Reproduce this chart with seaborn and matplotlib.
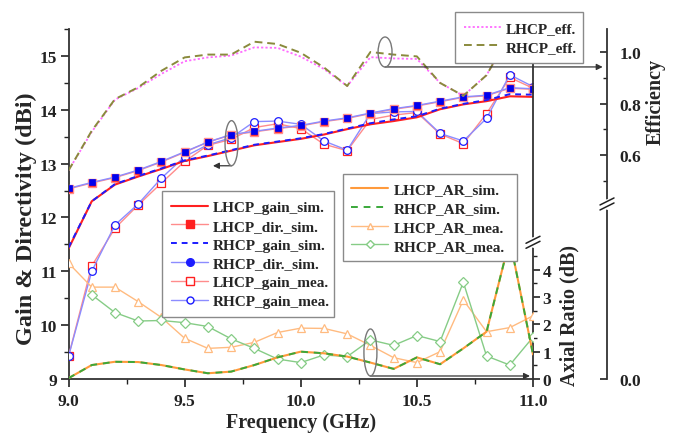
import numpy as np
import pandas as pd
import seaborn as sns
import matplotlib
matplotlib.use("Agg")
import matplotlib.pyplot as plt
import matplotlib.ticker as mt
from matplotlib.lines import Line2D
from matplotlib.patches import Ellipse
from matplotlib.transforms import IdentityTransform

# ---------------- data ----------------
freq = [9.0, 9.1, 9.2, 9.3, 9.4, 9.5, 9.6, 9.7, 9.8, 9.9, 10.0,
        10.1, 10.2, 10.3, 10.4, 10.5, 10.6, 10.7, 10.8, 10.9, 11.0]

lhcp_gain_sim = [11.42, 12.30, 12.61, 12.76, 12.90, 13.05, 13.14, 13.24, 13.34, 13.40, 13.46,
                 13.54, 13.64, 13.73, 13.79, 13.86, 14.01, 14.10, 14.16, 14.25, 14.24]
rhcp_gain_sim = [11.44, 12.30, 12.62, 12.77, 12.91, 13.06, 13.15, 13.25, 13.35, 13.41, 13.47,
                 13.55, 13.65, 13.75, 13.82, 13.88, 14.02, 14.11, 14.18, 14.29, 14.28]
lhcp_dir_sim = [12.53, 12.64, 12.74, 12.87, 13.03, 13.21, 13.40, 13.53, 13.59, 13.65, 13.70,
                13.78, 13.84, 13.93, 14.01, 14.07, 14.15, 14.23, 14.26, 14.40, 14.38]
rhcp_dir_sim = [12.54, 12.65, 12.75, 12.88, 13.04, 13.22, 13.40, 13.54, 13.60, 13.66, 13.71,
                13.79, 13.85, 13.94, 14.02, 14.08, 14.16, 14.24, 14.27, 14.41, 14.39]
lhcp_gain_mea = [9.42, 11.10, 11.80, 12.23, 12.64, 13.04, 13.34, 13.45, 13.67, 13.74, 13.65,
                 13.36, 13.24, 13.82, 13.90, 13.95, 13.55, 13.37, 13.93, 14.60, 14.40]
rhcp_gain_mea = [9.42, 11.00, 11.86, 12.25, 12.73, 13.13, 13.35, 13.48, 13.78, 13.79, 13.73,
                 13.42, 13.25, 13.93, 13.96, 13.97, 13.56, 13.42, 13.84, 14.65, 14.43]

lhcp_eff = [0.54, 0.690, 0.815, 0.860, 0.915, 0.964, 0.979, 0.986, 1.018, 1.016, 0.982,
            0.934, 0.868, 0.980, 0.975, 0.973, 0.880, 0.830, 0.910, 1.070, 1.060]
rhcp_eff = [0.54, 0.694, 0.817, 0.863, 0.927, 0.979, 0.990, 0.990, 1.040, 1.031, 0.997,
            0.940, 0.868, 1.000, 0.990, 0.983, 0.880, 0.830, 0.910, 1.070, 1.060]

lhcp_ar_sim = [0.03, 0.51, 0.63, 0.62, 0.51, 0.35, 0.21, 0.27, 0.51, 0.79, 1.00,
               0.94, 0.82, 0.60, 0.37, 0.79, 0.54, 1.12, 1.73, 5.10, 0.90]
rhcp_ar_sim = [0.03, 0.51, 0.63, 0.62, 0.51, 0.35, 0.21, 0.27, 0.51, 0.79, 1.00,
               0.94, 0.82, 0.60, 0.37, 0.79, 0.54, 1.12, 1.73, 5.10, 0.90]
lhcp_ar_mea = [4.24, 3.36, 3.36, 2.83, 2.25, 1.49, 1.12, 1.16, 1.34, 1.70, 1.86,
               1.85, 1.65, 1.23, 0.78, 0.60, 1.00, 2.89, 1.73, 1.88, 2.31]
rhcp_ar_mea = [np.nan, 3.08, 2.43, 2.12, 2.14, 2.06, 1.92, 1.47, 1.12, 0.73, 0.60,
               0.88, 0.82, 1.43, 1.23, 1.59, 1.37, 3.54, 0.84, 0.51, 1.53]

x_ticks = [9.0, 9.5, 10.0, 10.5, 11.0]
gain_ticks = [9, 10, 11, 12, 13, 14, 15]
ar_ticks = [0, 1, 2, 3, 4]
eff_ticks = [0.0, 0.6, 0.8, 1.0]

# ---------------- style ----------------
sns.set_theme(style="ticks")
plt.rcParams["font.family"] = ["Liberation Serif", "DejaVu Serif"]
plt.rcParams["font.weight"] = "bold"
plt.rcParams["axes.linewidth"] = 1.3
plt.rcParams["axes.edgecolor"] = "#333333"

RED, PRED = "#ff2020", "#ff8c8c"
BLUE, PBLUE = "#1c1cff", "#8c8cff"
MAG, OLIVE = "#ff6cff", "#8a8a3c"
ORANGE, PORANGE = "#ff9a3c", "#ffbb80"
GREEN, PGREEN = "#3aa83a", "#86cc86"

W, H = 682, 435
L, R, B, T = 68.5, 533.0, 380.0, 30.0
fig = plt.figure(figsize=(W / 100, H / 100), dpi=100)
ax = fig.add_axes([L / W, 1 - B / H, (R - L) / W, (B - T) / H])
ax_ar = ax.twinx()
ax_eff = ax.twinx()
for a in (ax, ax_ar, ax_eff):
    a.patch.set_visible(False)

# ---------------- gain / directivity ----------------
sns.lineplot(x=freq, y=lhcp_gain_mea, ax=ax, color=PRED, lw=1.0, marker="s", ms=5.5,
             mfc="white", mec=RED, mew=0.9, zorder=3)
sns.lineplot(x=freq, y=rhcp_gain_mea, ax=ax, color=PBLUE, lw=1.0, marker="o", ms=5.5,
             mfc="white", mec=BLUE, mew=0.9, zorder=3)
sns.lineplot(x=freq, y=lhcp_dir_sim, ax=ax, color=PRED, lw=1.0, marker="s", ms=5.8,
             mfc=RED, mec=PRED, mew=1.0, zorder=4)
sns.lineplot(x=freq, y=rhcp_dir_sim, ax=ax, color=PBLUE, lw=1.0, marker="s", ms=4.6,
             mfc="#0000ee", mec="#0000ee", mew=0.5, zorder=4)
sns.lineplot(x=freq, y=lhcp_gain_sim, ax=ax, color=RED, lw=1.5, zorder=5)
sns.lineplot(x=freq, y=rhcp_gain_sim, ax=ax, color=BLUE, lw=1.4, dashes=False,
             linestyle=(0, (3, 2.5)), zorder=6)

ax.set_xlim(9.0, 11.0)
ax.set_ylim(9.0, 15.5)
ax.xaxis.set_major_locator(mt.FixedLocator(x_ticks))
ax.xaxis.set_minor_locator(mt.MultipleLocator(0.25))
ax.xaxis.set_major_formatter(mt.FormatStrFormatter("%.1f"))
ax.yaxis.set_major_locator(mt.FixedLocator(gain_ticks))
ax.yaxis.set_minor_locator(mt.MultipleLocator(0.5))
ax.yaxis.set_major_formatter(mt.FormatStrFormatter("%d"))
ax.spines["top"].set_visible(False)
ax.spines["right"].set_visible(False)
ax.tick_params(which="major", direction="out", length=6, width=1.2, labelsize=12.5, pad=2,
               colors="#222222")
ax.tick_params(which="minor", direction="out", length=3.5, width=1.0, colors="#222222")
ax.tick_params(axis="x", which="major", pad=4)
ax.set_xlabel("")
ax.set_ylabel("")

ax.add_patch(Ellipse((9.702, 13.38), 0.056, 0.836, fill=False, ec="#777777", lw=1.0, zorder=7))
ax.annotate("", xy=(9.622, 12.96), xytext=(9.702, 12.96),
            arrowprops=dict(arrowstyle="-|>", color="#333333", lw=0.9, shrinkA=0, shrinkB=0,
                            mutation_scale=9))

# ---------------- axial ratio ----------------
sns.lineplot(x=freq, y=lhcp_ar_mea, ax=ax_ar, color=PORANGE, lw=1.0, marker="^", ms=5.5,
             mfc="white", mec=PORANGE, mew=0.9, zorder=3)
sns.lineplot(x=freq, y=rhcp_ar_mea, ax=ax_ar, color=PGREEN, lw=1.0, marker="D", ms=4.6,
             mfc="white", mec=PGREEN, mew=0.9, zorder=3)
sns.lineplot(x=freq, y=lhcp_ar_sim, ax=ax_ar, color=ORANGE, lw=1.5, zorder=4)
sns.lineplot(x=freq, y=rhcp_ar_sim, ax=ax_ar, color=GREEN, lw=1.4, dashes=False,
             linestyle=(0, (3.5, 3)), zorder=5)
ax_ar.set_ylim(0, 12.8)
ax_ar.yaxis.set_major_locator(mt.FixedLocator(ar_ticks))
ax_ar.yaxis.set_minor_locator(mt.FixedLocator([0.5, 1.5, 2.5, 3.5, 4.5]))
ax_ar.yaxis.set_major_formatter(mt.FormatStrFormatter("%d"))
for s in ("top", "left", "bottom"):
    ax_ar.spines[s].set_visible(False)
ax_ar.tick_params(axis="y", which="major", direction="out", length=5, width=1.2,
                  labelsize=12.5, pad=2, colors="#222222")
ax_ar.tick_params(axis="y", which="minor", direction="out", length=3, width=1.0, colors="#222222")
ax_ar.set_ylabel("")
ax_ar.add_patch(Ellipse((10.30, 0.97), 0.056, 1.72, fill=False, ec="#777777", lw=1.0, zorder=7))
ax_ar.annotate("", xy=(10.987, 0.11), xytext=(10.30, 0.11),
               arrowprops=dict(arrowstyle="-|>", color="#333333", lw=0.9, shrinkA=0, shrinkB=0,
                               mutation_scale=9))

# ---------------- efficiency (broken scale) ----------------
BRK = 0.41
LOW = (B - 205.0) / 257.5


def fwd(v):
    v = np.asarray(v, dtype=float)
    return np.where(v >= BRK, v, BRK - (BRK - v) * LOW / BRK)


def inv(u):
    u = np.asarray(u, dtype=float)
    return np.where(u >= BRK, u, BRK - (BRK - u) * BRK / LOW)


sns.lineplot(x=freq, y=lhcp_eff, ax=ax_eff, color=MAG, lw=1.3, dashes=False,
             linestyle=(0, (1.2, 1.2)), zorder=3)
sns.lineplot(x=freq, y=rhcp_eff, ax=ax_eff, color=OLIVE, lw=1.4, dashes=False,
             linestyle=(0, (4, 2.5)), zorder=3)
ax_eff.set_yscale("function", functions=(fwd, inv))
ax_eff.set_ylim(0.0, 1.0 + 23.0 / 257.5)
ax_eff.yaxis.set_major_locator(mt.FixedLocator(eff_ticks))
ax_eff.yaxis.set_minor_locator(mt.FixedLocator([0.5, 0.7, 0.9]))
ax_eff.yaxis.set_major_formatter(mt.FormatStrFormatter("%.1f"))
ax_eff.yaxis.set_minor_formatter(mt.NullFormatter())
for s in ("top", "left", "bottom"):
    ax_eff.spines[s].set_visible(False)
ax_eff.spines["right"].set_position(("axes", 1 + 74.0 / (R - L)))
ax_eff.tick_params(axis="y", which="major", direction="in", length=5, width=1.2,
                   labelsize=12.5, pad=9, colors="#222222")
ax_eff.tick_params(axis="y", which="minor", direction="in", length=3, width=1.0, colors="#222222")
ax_eff.set_ylabel("")
ax_eff.add_patch(Ellipse((10.363, 1.0), 0.06, 0.1165, fill=False, ec="#777777", lw=1.0, zorder=7))
ax_eff.annotate("", xy=(11.30, 0.942), xytext=(10.363, 0.942), annotation_clip=False,
                arrowprops=dict(arrowstyle="-|>", color="#333333", lw=0.9, shrinkA=0, shrinkB=0,
                                mutation_scale=9))

# ---------------- axis labels ----------------
fig.text(301 / W, 1 - 423 / H, "Frequency (GHz)", ha="center", va="center", fontsize=14.5,
         fontweight="bold")
fig.text(26 / W, 1 - 219 / H, "Gain & Directivity (dBi)", ha="center", va="center",
         rotation=90, fontsize=17.5, fontweight="bold")
fig.text(569 / W, 1 - 316 / H, "Axial Ratio (dB)", ha="center", va="center", rotation=90,
         fontsize=14.5, fontweight="bold")
fig.text(656 / W, 1 - 102 / H, "Efficiency", ha="center", va="center", rotation=90,
         fontsize=14.5, fontweight="bold")

# ---------------- legends ----------------
def H_(color, ls="-", lw=1.0, marker=None, ms=6, mfc="white", mec=None):
    return Line2D([], [], color=color, ls=ls, lw=lw, marker=marker, ms=ms, mfc=mfc,
                  mec=mec if mec else color)


def make_legend(handles, labels, x0, y0, x1, pad):
    lg = fig.legend(handles, labels, loc="upper left", mode="expand",
                    bbox_to_anchor=(x0 / W, 1 - y0 / H, (x1 - x0) / W, 0.0),
                    bbox_transform=fig.transFigure, frameon=True, fancybox=False,
                    framealpha=1.0, edgecolor="#8a8a8a", fontsize=11, handlelength=2.4,
                    handletextpad=0.35, labelspacing=0.34, borderpad=pad, borderaxespad=0.0)
    lg.get_frame().set_linewidth(1.0)
    return lg


h1 = [H_(RED, lw=1.5),
      H_(PRED, marker="s", ms=5.5, mfc=RED, mec=RED),
      H_(BLUE, ls=(0, (3, 2.5)), lw=1.4),
      H_(PBLUE, marker="o", ms=5.5, mfc=BLUE, mec=BLUE),
      H_(PRED, marker="s", ms=5.5, mec=RED),
      H_(PBLUE, marker="o", ms=5, mec=BLUE)]
l1 = ["LHCP_gain_sim.", "LHCP_dir._sim.", "RHCP_gain_sim.", "RHCP_dir._sim.",
      "LHCP_gain_mea.", "RHCP_gain_mea."]
make_legend(h1, l1, 162, 192, 334, 0.6)

h2 = [H_(ORANGE, lw=1.5),
      H_(GREEN, ls=(0, (3.5, 3)), lw=1.4),
      H_(PORANGE, marker="^", ms=5),
      H_(PGREEN, marker="D", ms=4.2)]
l2 = ["LHCP_AR_sim.", "RHCP_AR_sim.", "LHCP_AR_mea.", "RHCP_AR_mea."]
make_legend(h2, l2, 343, 175, 517, 0.55)

h3 = [H_(MAG, ls=(0, (1.2, 1.2)), lw=1.3), H_(OLIVE, ls=(0, (4, 2.5)), lw=1.4)]
l3 = ["LHCP_eff.", "RHCP_eff."]
make_legend(h3, l3, 455, 13, 583, 0.6)

# ---------------- axis break marks ----------------
def brk(x, y):
    fig.add_artist(Line2D([x, x], [y - 3, y + 3], color="white", lw=3.5,
                          transform=IdentityTransform(), zorder=20))
    for dy in (-2.5, 2.5):
        fig.add_artist(Line2D([x - 7, x + 7], [y + dy - 3.5, y + dy + 3.5], color="#222222",
                              lw=1.1, transform=IdentityTransform(), zorder=21))


x_ar = ax.transAxes.transform((1.0, 0.0))[0]
y_ar = ax_ar.transData.transform((9.0, 5.0))[1]
brk(x_ar, y_ar)
x_eff = ax.transAxes.transform((1 + 74.0 / (R - L), 0.0))[0]
y_eff = ax_eff.transData.transform((9.0, BRK))[1]
brk(x_eff, y_eff)

fig.savefig("out.png", dpi=100, facecolor="white")
